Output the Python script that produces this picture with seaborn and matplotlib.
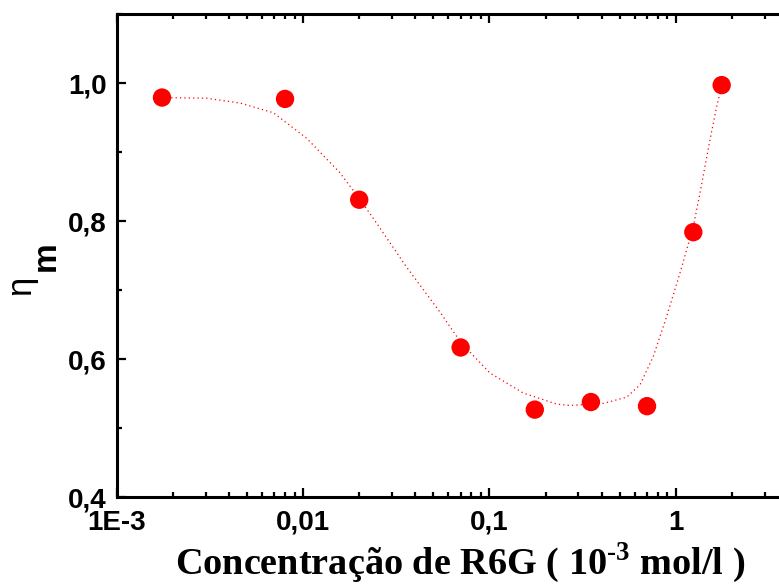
import numpy as np
import pandas as pd
import matplotlib
matplotlib.use("Agg")
import matplotlib.pyplot as plt
import matplotlib.ticker as mticker
import seaborn as sns

# measured points
conc = [0.00175, 0.008, 0.020, 0.070, 0.175, 0.35, 0.70, 1.24, 1.76]
eta = [0.979, 0.977, 0.831, 0.617, 0.527, 0.538, 0.532, 0.784, 0.997]

# fitted (dotted) guide curve
curve_x = [0.00176, 0.00304, 0.00459, 0.00692, 0.01045, 0.01578, 0.0201, 0.0238,
           0.0360, 0.0543, 0.0703, 0.1006, 0.1518, 0.2293, 0.2703, 0.4078, 0.5446,
           0.642, 0.7563, 0.892, 1.052, 1.240, 1.347, 1.524, 1.655, 1.725]
curve_y = [0.979, 0.978, 0.971, 0.957, 0.920, 0.870, 0.832, 0.804,
           0.733, 0.668, 0.624, 0.580, 0.551, 0.535, 0.533, 0.536, 0.545,
           0.563, 0.604, 0.662, 0.725, 0.792, 0.841, 0.918, 0.966, 0.986]

xticks = [1e-3, 1e-2, 1e-1, 1, 10]
xticklabels = ["1E-3", "0,01", "0,1", "1", ""]
yticks = [0.4, 0.6, 0.8, 1.0]
yticklabels = ["0,4", "0,6", "0,8", "1,0"]

sns.set_theme(style="ticks", rc={
    "text.color": "black", "axes.labelcolor": "black", "axes.edgecolor": "black",
    "xtick.color": "black", "ytick.color": "black"})
plt.rcParams["font.family"] = ["Liberation Sans", "DejaVu Sans"]
plt.rcParams["mathtext.fontset"] = "custom"
plt.rcParams["mathtext.rm"] = "Liberation Serif:bold"
plt.rcParams["mathtext.bf"] = "Liberation Serif:bold"

fig = plt.figure(figsize=(7.79, 5.84), dpi=100)
W, H = 779, 584
x0, xr, ytop, ybot = 116.7, 862.3, 14, 497.3
ax = fig.add_axes([x0 / W, (H - ybot) / H, (xr - x0) / W, (ybot - ytop) / H])

df_pts = pd.DataFrame({"conc": conc, "eta": eta})
df_curve = pd.DataFrame({"x": curve_x, "y": curve_y})

sns.lineplot(data=df_curve, x="x", y="y", sort=False, estimator=None, ax=ax,
             color="red", linestyle=(0, (1, 2.5)), linewidth=0.9, zorder=2)
sns.scatterplot(data=df_pts, x="conc", y="eta", ax=ax, color="#ff0000", s=175,
                edgecolor="none", zorder=3)

ax.set_xscale("log")
ax.set_xlim(1e-3, 10)
ax.set_ylim(0.4, 1.1)

ax.xaxis.set_major_locator(mticker.FixedLocator(xticks))
ax.xaxis.set_major_formatter(mticker.FixedFormatter(xticklabels))
ax.xaxis.set_minor_locator(mticker.LogLocator(base=10, subs=np.arange(2, 10)))
ax.xaxis.set_minor_formatter(mticker.NullFormatter())
ax.yaxis.set_major_locator(mticker.FixedLocator(yticks))
ax.yaxis.set_major_formatter(mticker.FixedFormatter(yticklabels))
ax.yaxis.set_minor_locator(mticker.MultipleLocator(0.1))

for s in ax.spines.values():
    s.set_linewidth(2.2)
    s.set_visible(True)
    s.set_color("black")
ax.tick_params(which="both", direction="in", top=True, right=True, width=1.6,
               color="black", labelcolor="black")
ax.tick_params(which="major", length=6.5, labelsize=20, pad=7)
ax.tick_params(axis="x", which="major", pad=9)
ax.tick_params(which="minor", length=3.5)
for lab in ax.get_xticklabels() + ax.get_yticklabels():
    lab.set_fontweight("bold")

ax.set_xlabel(r"Concentração de R6G ( 10$^{\text{-3}}$ mol/l )",
              fontfamily="Liberation Serif", fontweight="bold", fontsize=27.5)
ax.xaxis.set_label_coords((460 - x0) / (xr - x0), (ybot - 541) / (ybot - ytop))
ax.set_ylabel("")
ax.grid(False)

# y label: eta with a lowered bold "m"
fig.text(30 / W, 1 - 295 / H, "η", rotation=90, rotation_mode="anchor",
         ha="left", va="baseline", fontsize=25, fontfamily="Liberation Sans")
fig.text(55 / W, 1 - 271 / H, "m", rotation=90, rotation_mode="anchor",
         ha="left", va="baseline", fontsize=24, fontweight="bold",
         fontfamily="Liberation Sans")

fig.savefig("out.png", dpi=100)
